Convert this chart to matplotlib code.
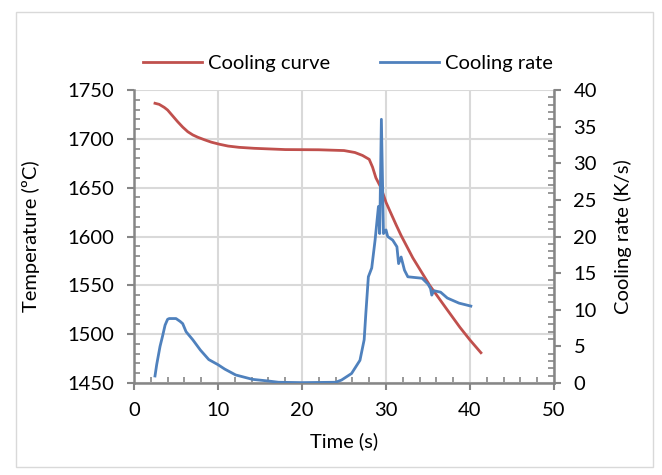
import matplotlib
matplotlib.use("Agg")
import matplotlib.pyplot as plt
from matplotlib.ticker import MultipleLocator
from matplotlib.patches import Rectangle

# ---- data ----
t_curve = [2.5, 3.0, 3.6, 4.0, 4.6, 5.2, 5.8, 6.4, 7.0, 7.6, 8.4, 9.2, 10.2, 11.2, 12.5,
           14.3, 18.0, 22.0, 25.0, 26.3, 27.2, 28.0, 28.4, 28.8, 29.4, 30.0, 31.2, 31.8,
           33.2, 35.2, 37.2, 38.8, 40.0, 41.3]
temp_curve = [1736.4, 1735.3, 1732.2, 1729.5, 1723.5, 1717.5, 1712.0, 1707.3, 1704.0,
              1701.6, 1699.0, 1696.6, 1694.4, 1692.6, 1691.3, 1690.3, 1689.0, 1688.8,
              1688.0, 1686.0, 1683.0, 1679.0, 1671.0, 1660.0, 1650.0, 1635.0, 1612.0,
              1601.0, 1578.0, 1550.0, 1526.0, 1507.0, 1494.0, 1481.0]

t_rate = [2.5, 2.7, 3.1, 3.4, 3.7, 4.0, 4.2, 5.0, 5.5, 5.8, 6.2, 7.0, 7.9, 8.9, 10.0,
          10.8, 12.1, 14.1, 16.0, 17.2, 20.0, 24.0, 24.7, 25.9, 26.9, 27.4, 27.6, 27.9,
          28.3, 28.7, 29.1, 29.25, 29.45, 29.7, 30.0, 30.2, 30.8, 31.3, 31.5, 31.8,
          32.2, 32.6, 34.3, 35.0, 35.3, 35.45, 35.7, 36.5, 37.3, 38.7, 40.1]
rate = [0.96, 2.5, 5.0, 6.4, 7.9, 8.7, 8.8, 8.8, 8.4, 8.1, 7.0, 5.9, 4.5, 3.2, 2.5,
        1.9, 1.1, 0.5, 0.27, 0.1, 0.05, 0.1, 0.4, 1.3, 3.1, 5.9, 9.5, 14.5,
        15.7, 19.5, 24.1, 20.4, 36.0, 20.4, 20.9, 20.0, 19.5, 18.6, 16.3, 17.2,
        15.4, 14.5, 14.3, 13.5, 12.9, 12.0, 12.6, 12.4, 11.6, 10.9, 10.5]

x_ticks = [0, 10, 20, 30, 40, 50]
t_ticks = [1450, 1500, 1550, 1600, 1650, 1700, 1750]
r_ticks = [0, 5, 10, 15, 20, 25, 30, 35, 40]

RED = "#C0504D"
BLUE = "#4F81BD"
AXC = "#868686"
GRID = "#D9D9D9"

plt.rcParams['font.family'] = ['Lato', 'DejaVu Sans']
plt.rcParams['font.size'] = 14.5

fig = plt.figure(figsize=(6.62, 4.75), dpi=100)
fig.patches.append(Rectangle((16/662, 1-467/475), (653-16)/662, (467-12)/475,
                             transform=fig.transFigure, fill=False,
                             edgecolor=GRID, linewidth=1))

ax = fig.add_axes([134/662, 1-383/475, 420/662, 293/475])
ax2 = ax.twinx()

l1, = ax.plot(t_curve, temp_curve, color=RED, lw=2.0, label="Cooling curve")
l2, = ax2.plot(t_rate, rate, color=BLUE, lw=2.0, label="Cooling rate")

ax.set_xlim(0, 50)
ax.set_ylim(1450, 1750)
ax2.set_ylim(0, 40)
ax.set_xticks(x_ticks)
ax.set_yticks(t_ticks)
ax2.set_yticks(r_ticks)
ax.xaxis.set_minor_locator(MultipleLocator(2))
ax.yaxis.set_minor_locator(MultipleLocator(10))
ax2.yaxis.set_minor_locator(MultipleLocator(1))

ax.grid(True, which='major', color=GRID, lw=1.5)
ax.set_axisbelow(True)

for a in (ax, ax2):
    for s in a.spines.values():
        s.set_visible(False)
ax.spines['left'].set_visible(True)
ax.spines['bottom'].set_visible(True)
ax2.spines['right'].set_visible(True)
for s in (ax.spines['left'], ax.spines['bottom'], ax2.spines['right']):
    s.set_color(AXC)
    s.set_linewidth(1.8)

ax.tick_params(which='major', direction='out', length=5, width=1.5, color=AXC, pad=9)
ax.tick_params(which='minor', direction='in', length=4, width=1.2, color=AXC)
ax2.tick_params(which='major', direction='out', length=5, width=1.5, color=AXC, pad=9)
ax2.tick_params(which='minor', direction='in', length=4, width=1.2, color=AXC)

ax.set_xlabel("Time (s)")
ax.xaxis.set_label_coords(0.5, (383-441)/293)
ax.xaxis.label.set_va('center')
ax.set_ylabel("Temperature (ºC)")
ax.yaxis.set_label_coords((31-134)/420, 0.5)
ax.yaxis.label.set_va('center')
ax2.set_ylabel("Cooling rate (K/s)")
ax2.yaxis.set_label_coords((623-134)/420, 0.5)
ax2.yaxis.label.set_va('center')

fig.legend(handles=[l1, l2], loc='center', bbox_to_anchor=(348/662, 1-63/475),
           ncol=2, frameon=False, handlelength=2.9, handletextpad=0.3,
           columnspacing=2.5, fontsize=14.5)

fig.savefig("out.png", dpi=100)
